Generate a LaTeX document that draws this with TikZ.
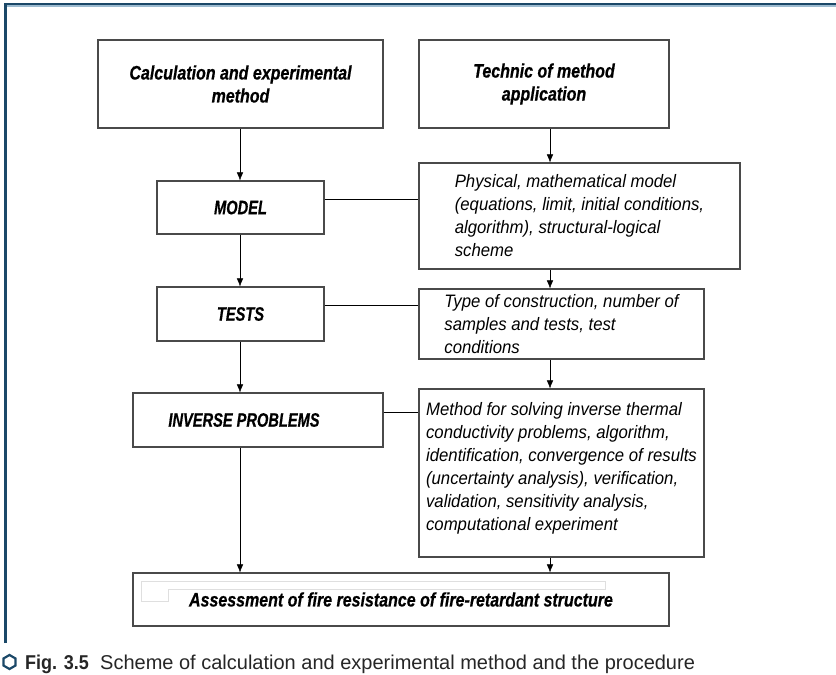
\documentclass[tikz,border=0pt]{standalone}
\usepackage{fontspec}
\setmainfont{Liberation Sans}
\newfontfamily\headfont{Liberation Sans}[FakeStretch=0.82,FakeBold=0.6]
\newfontfamily\capsfont{Liberation Sans}[FakeStretch=0.75,FakeBold=0.6]
\newfontfamily\notefont{Liberation Sans}[FakeStretch=0.93]
\newfontfamily\figfont{Liberation Sans}[FakeStretch=0.9]
\usetikzlibrary{arrows.meta,calc,shapes.geometric}
\tikzset{>={Latex[length=8pt,width=6.5pt]}}
\definecolor{frameblue}{HTML}{1B4868}
\definecolor{framelight}{HTML}{9DBBD0}
\definecolor{boxgray}{HTML}{4A4A4A}
\tikzstyle{block}=[rectangle,draw=boxgray,line width=1.2pt,inner sep=0pt]
\tikzstyle{head}=[block,align=center,font=\headfont\fontsize{19.5}{23}\selectfont\bfseries\itshape]
\tikzstyle{stage}=[block,font=\capsfont\fontsize{19.5}{23}\selectfont\bfseries\itshape]
\tikzstyle{note}=[block,align=left,font=\notefont\fontsize{18}{23}\selectfont\itshape]

\begin{document}
\begin{tikzpicture}[x=1pt,y=-1pt]
    \useasboundingbox (0,0) rectangle (836,675);
    % page frame
    \draw[frameblue,line width=2.5pt] (5.5,643) -- (5.5,3.8) -- (836,3.8);
    \draw[framelight,line width=1.2pt] (7,6) -- (836,6);

    \node[head,minimum width=285pt,minimum height=88pt] (calc) at (240.5,84) {Calculation and experimental\\method};
    \node[head,minimum width=250pt,minimum height=88pt] (tech) at (544,84) {Technic of method\\application};

    \node[stage,minimum width=167pt,minimum height=53pt] (model) at (240.5,207.5) {MODEL};
    \node[note,minimum width=321pt,minimum height=106pt] (phys) at (579.5,216) {Physical, mathematical model\\(equations, limit, initial conditions,\hspace*{12pt}\\algorithm), structural-logical\\scheme};

    \node[stage,minimum width=167pt,minimum height=54pt] (tests) at (240.5,314) {TESTS};
    \node[note,minimum width=285pt,minimum height=70pt] (type) at (561.5,324) {Type of construction, number of\\samples and tests, test\\conditions};

    \node[stage,minimum width=250pt,minimum height=54pt] (inverse) at (258,420) {INVERSE PROBLEMS\hspace*{28pt}};
    \node[note,minimum width=285pt,minimum height=168pt] (method) at (561.5,473) {Method for solving inverse thermal\\conductivity problems, algorithm,\\identification, convergence of results\\(uncertainty analysis), verification,\\validation, sensitivity analysis,\\computational experiment\\[-9pt]\mbox{}};

    \node[head,minimum width=536pt,minimum height=53pt] (final) at (401,599.5) {Assessment of fire resistance of fire-retardant structure};
    \draw[gray!25,line width=0.8pt] (141,601) -- (141,581) -- (605,581) -- (605,589) -- (168,589) -- (168,601) -- cycle;

    % arrows
    \coordinate (lcol) at (240,0);
    \coordinate (rcol) at (550,0);
    \draw[->] (calc.south -| lcol) -- (model.north -| lcol);
    \draw[->] (model.south -| lcol) -- (tests.north -| lcol);
    \draw[->] (tests.south -| lcol) -- (inverse.north -| lcol);
    \draw[->] (inverse.south -| lcol) -- (final.north -| lcol);
    \draw[->] (tech.south -| rcol) -- (phys.north -| rcol);
    \draw[->] (phys.south -| rcol) -- (type.north -| rcol);
    \draw[->] (type.south -| rcol) -- (method.north -| rcol);
    \draw[->] (method.south -| rcol) -- (final.north -| rcol);

    % links
    \coordinate (mlink) at (0,199);
    \coordinate (tlink) at (0,305);
    \coordinate (ilink) at (0,412);
    \draw (model.east |- mlink) -- (phys.west |- mlink);
    \draw (tests.east |- tlink) -- (type.west |- tlink);
    \draw (inverse.east |- ilink) -- (method.west |- ilink);

    % caption
    \node[regular polygon,regular polygon sides=6,shape border rotate=30,draw=frameblue,line width=2.2pt,inner sep=0pt,minimum size=14pt] (hex) at (9.5,662) {};
    \node[anchor=base west,inner sep=0pt,font=\figfont\fontsize{20}{24}\selectfont\bfseries,text=black!85] (fig) at (25,669) {Fig. 3.5};
    \node[anchor=base west,inner sep=0pt,font=\fontsize{20}{24}\selectfont,text=black!85] (caption) at (100,669) {Scheme of calculation and experimental method and the procedure};
\end{tikzpicture}
\end{document}
